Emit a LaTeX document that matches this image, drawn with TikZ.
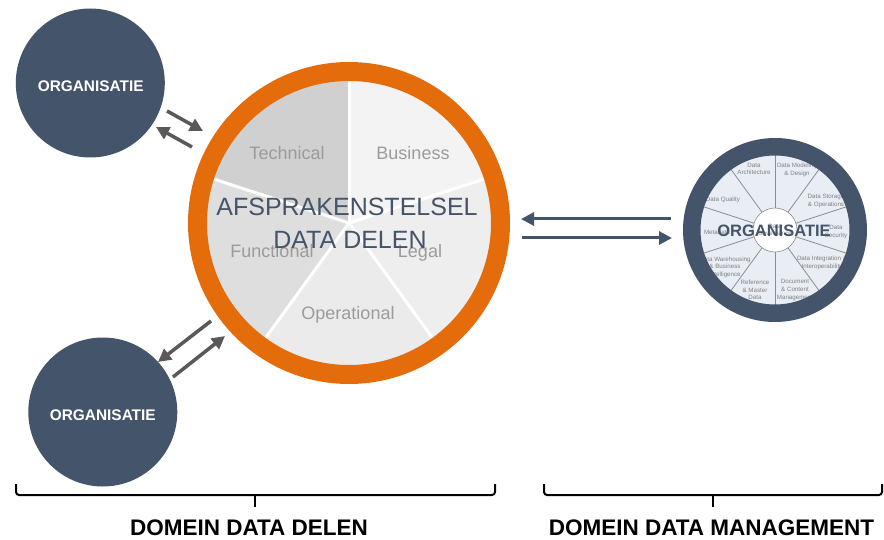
\documentclass[tikz,border=0pt]{standalone}
\usepackage{fontspec}
\setmainfont{Liberation Sans}
\usetikzlibrary{arrows.meta}
\definecolor{slate}{HTML}{44546A}
\definecolor{agray}{HTML}{595959}
\definecolor{orng}{HTML}{E46C0A}
\definecolor{techc}{HTML}{D0D0D0}
\definecolor{funcc}{HTML}{DEDEDE}
\definecolor{operc}{HTML}{EBEBEB}
\definecolor{legalc}{HTML}{EEEEEE}
\definecolor{busc}{HTML}{F3F3F3}
\definecolor{slicetxt}{HTML}{9B9B9B}
\definecolor{wheelc}{HTML}{E9EEF5}
\definecolor{wheeltxt}{HTML}{808080}
\definecolor{wheelline}{HTML}{8C8C8C}
\begin{document}
\begin{tikzpicture}[x=1pt,y=1pt,
  orgcircle/.style={circle, fill=slate, minimum size=149pt, inner sep=0pt},
  orgtext/.style={anchor=base, text=white, inner sep=0pt, font=\fontsize{15.4}{18}\selectfont\bfseries},
  slicelbl/.style={anchor=base, text=slicetxt, inner sep=0pt, font=\fontsize{18}{21}\selectfont},
  titletxt/.style={anchor=base, text=slate, inner sep=0pt, font=\fontsize{25}{30}\selectfont},
  garrow/.style={draw=agray, line width=3.5pt, -{Triangle[length=13pt,width=13pt]}},
  sarrow/.style={draw=slate, line width=3pt, -{Triangle[length=13pt,width=13pt]}},
  wlbl/.style={align=center, text=wheeltxt, inner sep=0pt, font=\fontsize{6.2}{7.6}\selectfont},
  divider/.style={draw=white, line width=3pt},
  wdivider/.style={draw=wheelline, line width=0.8pt},
  bracket/.style={draw=black, line width=2pt, rounded corners=3pt},
  domtext/.style={anchor=base, inner sep=0pt, font=\fontsize{22.5}{27}\selectfont\bfseries}
]
\useasboundingbox (0,0) rectangle (884,539);
\fill[white] (0,0) rectangle (884,539);

% ---------- left organisations ----------
\node[orgcircle] (org1) at (90.3,456) {};
\node[orgtext] (org1t) at (90.7,447.3) {ORGANISATIE};
\node[orgcircle] (org2) at (102.8,127) {};
\node[orgtext] (org2t) at (102.8,118.3) {ORGANISATIE};

% ---------- central pie ----------
\coordinate (C) at (349,316);
\fill[techc]  (C) -- ++(90:146)  arc[start angle=90,  end angle=162, radius=146] -- cycle;
\fill[busc]   (C) -- ++(18:146)  arc[start angle=18,  end angle=90,  radius=146] -- cycle;
\fill[legalc] (C) -- ++(-54:146) arc[start angle=-54, end angle=18,  radius=146] -- cycle;
\fill[operc]  (C) -- ++(-126:146) arc[start angle=-126, end angle=-54, radius=146] -- cycle;
\fill[funcc]  (C) -- ++(162:146) arc[start angle=162, end angle=234, radius=146] -- cycle;
\foreach \a in {90,18,-54,-126,162} \draw[divider] (C) -- ++(\a:146);
\node[circle, draw=orng, line width=19pt, minimum size=303pt, inner sep=0pt] (big) at (C) {};

\node[slicelbl] (tech) at (287,379) {Technical};
\node[slicelbl] (bus)  at (413,379) {Business};
\node[slicelbl] (func) at (272,281.7) {Functional};
\node[slicelbl] (legal) at (420,281.7) {Legal};
\node[slicelbl] (oper) at (348,219) {Operational};

\node[titletxt] (title1) at (347,323) {AFSPRAKENSTELSEL};
\node[titletxt] (title2) at (350,290.7) {DATA DELEN};

% ---------- right wheel ----------
\coordinate (W) at (775,309);
\fill[wheelc] (W) circle (76);
\foreach \a in {90,54,18,-18,-54,-90,-126,-162,162,126} \draw[wdivider] (W) -- ++(\a:76);
\node[wlbl] (w1)  at (754,370) {Data\\Architecture};
\node[wlbl] (w2)  at (797,369) {Data Modeling\\\& Design};
\node[wlbl] (w3)  at (826,338) {Data Storage\\\& Operations};
\node[wlbl] (w4)  at (836,307) {Data\\Security};
\node[wlbl] (w5)  at (822,276) {Data Integration \&\\Interoperability};
\node[wlbl] (w6)  at (795,249) {Document\\\& Content\\Management};
\node[wlbl] (w7)  at (755,249) {Reference\\\& Master\\Data};
\node[wlbl] (w8)  at (725,272) {Data Warehousing\\\& Business\\Intelligence};
\node[wlbl] (w9)  at (717,307) {Metadata};
\node[wlbl] (w10) at (723,339) {Data Quality};
\node[circle, fill=white, draw=wheelline, line width=0.6pt, minimum size=44pt, inner sep=0pt, wlbl] (gov) at (W) {Data\\Governance};
\node[circle, draw=slate, line width=17.5pt, minimum size=166.5pt, inner sep=0pt] (ring) at (W) {};
\node[anchor=base, text=slate, inner sep=0pt, font=\fontsize{16.5}{19}\selectfont\bfseries] (org3t) at (774,302.3) {ORGANISATIE};

% ---------- arrows ----------
\coordinate (a1s) at (167,428); \coordinate (a1e) at (203,408);
\coordinate (a2s) at (192,392); \coordinate (a2e) at (156,412);
\coordinate (b1s) at (211,218); \coordinate (b1e) at (158,177);
\coordinate (b2s) at (173,162); \coordinate (b2e) at (225,203);
\draw[garrow] (a1s) -- (a1e);
\draw[garrow] (a2s) -- (a2e);
\draw[garrow] (b1s) -- (b1e);
\draw[garrow] (b2s) -- (b2e);
\coordinate (r1s) at (671,320); \coordinate (r1e) at (521,320);
\coordinate (r2s) at (522,301); \coordinate (r2e) at (672,301);
\draw[sarrow] (r1s) -- (r1e);
\draw[sarrow] (r2s) -- (r2e);

% ---------- brackets ----------
\draw[bracket] (16,55) -- (16,44) -- (495,44) -- (495,55);
\draw[bracket] (255,44) -- (255,32);
\draw[bracket] (544,55) -- (544,44) -- (882,44) -- (882,55);
\draw[bracket] (713,44) -- (713,32);
\node[domtext] (dom1) at (249,4) {DOMEIN DATA DELEN};
\node[domtext] (dom2) at (711.5,4) {DOMEIN DATA MANAGEMENT};
\end{tikzpicture}
\end{document}
